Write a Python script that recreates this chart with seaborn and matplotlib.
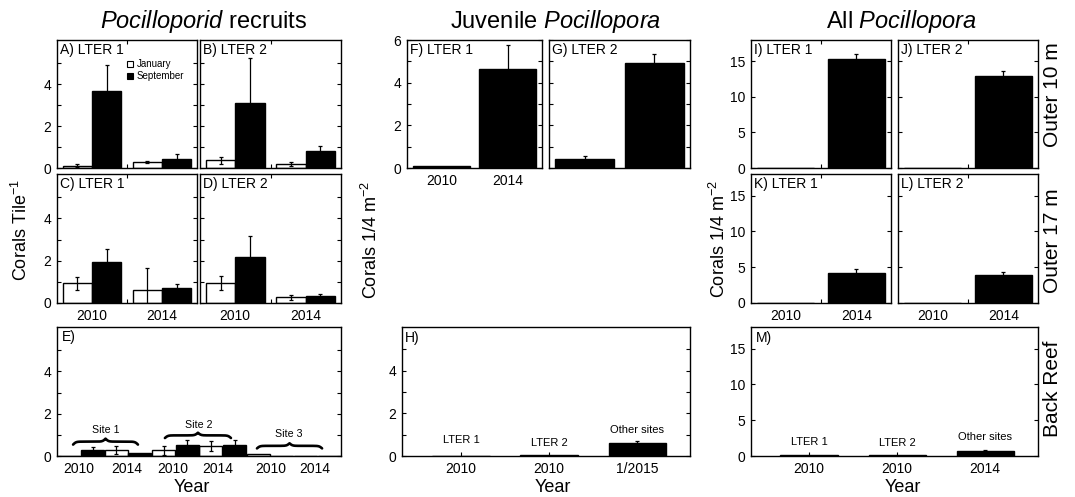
import numpy as np
import pandas as pd
import matplotlib.pyplot as plt
import seaborn as sns

sns.set_style("ticks")
plt.rcParams["font.family"] = ["Liberation Sans", "DejaVu Sans"]
plt.rcParams["mathtext.fontset"] = "custom"
plt.rcParams["mathtext.rm"] = "Liberation Sans"
plt.rcParams["mathtext.sf"] = "Liberation Sans"
plt.rcParams["mathtext.it"] = "Liberation Sans:italic"
plt.rcParams["axes.edgecolor"] = "black"
plt.rcParams["axes.linewidth"] = 1.0
plt.rcParams["xtick.color"] = "black"
plt.rcParams["ytick.color"] = "black"
plt.rcParams["text.color"] = "black"
plt.rcParams["axes.labelcolor"] = "black"

# ---- data ----
years = ["2010", "2014"]
months = ["January", "September"]

# Pocilloporid recruits, corals per tile (2010, 2014)
rec_10m_lter1_jan = [0.10, 0.28]
rec_10m_lter1_sep = [3.69, 0.42]
rec_10m_lter1_jan_se = [0.07, 0.05]
rec_10m_lter1_sep_se = [1.21, 0.26]
rec_10m_lter2_jan = [0.36, 0.20]
rec_10m_lter2_sep = [3.08, 0.82]
rec_10m_lter2_jan_se = [0.18, 0.10]
rec_10m_lter2_sep_se = [2.17, 0.25]
rec_17m_lter1_jan = [0.94, 0.60]
rec_17m_lter1_sep = [1.95, 0.71]
rec_17m_lter1_jan_se = [0.31, 1.06]
rec_17m_lter1_sep_se = [0.60, 0.21]
rec_17m_lter2_jan = [0.94, 0.27]
rec_17m_lter2_sep = [2.18, 0.33]
rec_17m_lter2_jan_se = [0.33, 0.13]
rec_17m_lter2_sep_se = [0.98, 0.09]

# back reef recruits, three sites x two years, bars in plotted order
br_slots = list(range(12))
br_months = ["January", "September"] * 6
br_mean = [0.0, 0.28, 0.28, 0.13, 0.27, 0.53, 0.47, 0.53, 0.09, 0.0, 0.0, 0.0]
br_se = [0.0, 0.16, 0.19, 0.0, 0.20, 0.22, 0.25, 0.22, 0.0, 0.0, 0.0, 0.0]
br_tick_labels = ["2010", "2014"] * 3
br_site_names = ["Site 1", "Site 2", "Site 3"]

# juvenile Pocillopora, corals per 1/4 m2
juv_10m_lter1 = [0.08, 4.63]
juv_10m_lter1_se = [0.0, 1.15]
juv_10m_lter2 = [0.43, 4.90]
juv_10m_lter2_se = [0.14, 0.46]

backreef_sites = ["LTER 1", "LTER 2", "Other sites"]
juv_br_years = ["2010", "2010", "1/2015"]
juv_br = [0.02, 0.04, 0.60]
juv_br_se = [0.0, 0.0, 0.10]

# all Pocillopora, corals per 1/4 m2
all_10m_lter1 = [0.0, 15.38]
all_10m_lter1_se = [0.0, 0.72]
all_10m_lter2 = [0.05, 12.90]
all_10m_lter2_se = [0.0, 0.70]
all_17m_lter1 = [0.0, 4.20]
all_17m_lter1_se = [0.0, 0.55]
all_17m_lter2 = [0.0, 3.87]
all_17m_lter2_se = [0.0, 0.43]
all_br_years = ["2010", "2010", "2014"]
all_br = [0.15, 0.12, 0.75]
all_br_se = [0.0, 0.0, 0.15]

# ---- layout ----
W, H = 1075, 497
fig = plt.figure(figsize=(W / 100, H / 100), dpi=100)


def place(x0, y0, x1, y1):
    return fig.add_axes([x0 / W, 1 - y1 / H, (x1 - x0) / W, (y1 - y0) / H])


def add_errors(ax, order, se, hue_order=None):
    # se: dict keyed by (category, hue)
    for ci, cont in enumerate(list(ax.containers)):
        hue = hue_order[ci] if hue_order else None
        for bar in cont:
            xc = bar.get_x() + bar.get_width() / 2
            err = se.get((order[int(round(xc))], hue), 0)
            if err > 0:
                ax.errorbar(xc, bar.get_height(), yerr=err, fmt="none",
                            ecolor="black", elinewidth=0.9, capsize=1.5,
                            capthick=0.9, zorder=3)


def recruit_panel(ax, jan, sep, jan_se, sep_se, legend=False):
    df = pd.DataFrame({"Year": years * 2,
                       "Month": [months[0]] * 2 + [months[1]] * 2,
                       "Mean": jan + sep})
    sns.barplot(data=df, x="Year", y="Mean", hue="Month", order=years,
                hue_order=months, palette={"January": "white", "September": "black"},
                edgecolor="black", linewidth=1, width=0.83, saturation=1,
                errorbar=None, legend=legend, ax=ax)
    se = {}
    for i, y in enumerate(years):
        se[(y, "January")] = jan_se[i]
        se[(y, "September")] = sep_se[i]
    add_errors(ax, years, se, months)
    ax.set_xlim(-0.5, 1.5)
    ax.set_xticks([0.5], minor=True)


def simple_panel(ax, cats, vals, errs, width=0.82):
    sns.barplot(x=cats, y=vals, order=cats, color="black", edgecolor="black",
                linewidth=1, width=width, saturation=1, errorbar=None, ax=ax)
    add_errors(ax, cats, {(c, None): e for c, e in zip(cats, errs)})


def style(ax, ymax, major, minor, show_y=True, show_x=True):
    ax.set(xlabel="", ylabel="")
    ax.set_ylim(0, ymax)
    ax.set_yticks(major)
    ax.set_yticks(minor, minor=True)
    ax.tick_params(axis="y", which="both", direction="in", left=True, right=True,
                   length=3, width=0.8, labelleft=show_y, labelsize=10, pad=4)
    ax.tick_params(axis="x", which="major", length=0, labelbottom=show_x,
                   labelsize=10, pad=4)
    ax.tick_params(axis="x", which="minor", direction="in", top=True,
                   bottom=True, length=3, width=0.8)
    for s in ax.spines.values():
        s.set_visible(True)
        s.set_linewidth(1.0)


def tag(ax, s, dx=3, dy=3):
    ax.annotate(s, xy=(0, 1), xycoords="axes fraction", xytext=(dx, -dy),
                textcoords="offset pixels", ha="left", va="top", fontsize=10)


def brace(ax, x0, x1, base, h):
    xs = np.linspace(x0, x1, 201)
    half = xs[:101]
    beta = 45.0 / (x1 - x0)
    yh = 1 / (1 + np.exp(-beta * (half - half[0]))) + 1 / (1 + np.exp(-beta * (half - half[-1])))
    ys = np.concatenate([yh, yh[-2::-1]])
    ax.plot(xs, base + (ys - 0.5) * h, color="black", lw=1.9,
            solid_capstyle="round", clip_on=False)


# ---- left column: recruits ----
axA = place(57, 40, 197, 168)
axB = place(200, 40, 341, 168)
axC = place(57, 174, 197, 303)
axD = place(200, 174, 341, 303)
axE = place(57, 327, 341, 456)

recruit_panel(axA, rec_10m_lter1_jan, rec_10m_lter1_sep,
              rec_10m_lter1_jan_se, rec_10m_lter1_sep_se, legend=True)
recruit_panel(axB, rec_10m_lter2_jan, rec_10m_lter2_sep,
              rec_10m_lter2_jan_se, rec_10m_lter2_sep_se)
recruit_panel(axC, rec_17m_lter1_jan, rec_17m_lter1_sep,
              rec_17m_lter1_jan_se, rec_17m_lter1_sep_se)
recruit_panel(axD, rec_17m_lter2_jan, rec_17m_lter2_sep,
              rec_17m_lter2_jan_se, rec_17m_lter2_sep_se)

sns.move_legend(axA, "upper left", bbox_to_anchor=(0.47, 0.88), frameon=False,
                title=None, fontsize=7, handlelength=0.65, handleheight=0.65,
                handletextpad=0.4, labelspacing=0.2, borderaxespad=0)
for h in axA.get_legend().legend_handles:
    h.set_edgecolor("black")
    h.set_linewidth(0.8)

for ax, show_y, show_x in [(axA, True, False), (axB, False, False),
                           (axC, True, True), (axD, False, True)]:
    style(ax, 6.1, [0, 2, 4], [1, 3, 5], show_y, show_x)
tag(axA, "A) LTER 1")
tag(axB, "B) LTER 2")
tag(axC, "C) LTER 1")
tag(axD, "D) LTER 2")

dfE = pd.DataFrame({"Slot": br_slots, "Month": br_months, "Mean": br_mean})
sns.barplot(data=dfE, x="Slot", y="Mean", hue="Month", order=br_slots,
            hue_order=months, palette={"January": "white", "September": "black"},
            dodge=False, edgecolor="black", linewidth=1, width=0.97,
            saturation=1, errorbar=None, legend=False, ax=axE)
add_errors(axE, br_slots,
           {(s, m): e for s, m, e in zip(br_slots, br_months, br_se)}, months)
style(axE, 6.1, [0, 2, 4], [1, 3, 5])
axE.set_xlim(-0.5, 11.5)
axE.set_xticks([0.4, 2.45, 4.4, 6.3, 8.55, 10.4], br_tick_labels)
tag(axE, "E)", dx=5)
for name, (x0, x1, base, h), (tx, ty) in zip(
        br_site_names,
        [(0.18, 2.92, 0.54, 0.28), (4.06, 6.85, 0.85, 0.25), (7.95, 10.7, 0.36, 0.24)],
        [(1.57, 1.24), (5.5, 1.47), (9.3, 1.05)]):
    brace(axE, x0, x1, base, h)
    axE.text(tx, ty, name, ha="center", va="center", fontsize=7.7)

# ---- middle column: juveniles ----
axF = place(407, 40, 542, 168)
axG = place(549, 40, 690, 168)
axH = place(402, 327, 690, 456)

simple_panel(axF, years, juv_10m_lter1, juv_10m_lter1_se, width=0.85)
simple_panel(axG, years, juv_10m_lter2, juv_10m_lter2_se, width=0.85)
style(axF, 6, [0, 2, 4, 6], [1, 3, 5], True, True)
style(axG, 6, [0, 2, 4, 6], [1, 3, 5], False, False)
tag(axF, "F) LTER 1")
tag(axG, "G) LTER 2")

simple_panel(axH, backreef_sites, juv_br, juv_br_se, width=0.65)
style(axH, 6.05, [0, 2, 4], [1, 3, 5])
axH.set_xlim(-0.67, 2.6)
axH.set_xticks(range(3), juv_br_years)
axH.tick_params(axis="x", which="major", length=3, direction="in", width=0.8)
tag(axH, "H)", dy=4)
for i, (name, ty) in enumerate(zip(backreef_sites, [0.75, 0.6, 1.2])):
    axH.text(i, ty, name, ha="center", va="center", fontsize=8)

# ---- right column: all Pocillopora ----
axI = place(751, 40, 891, 168)
axJ = place(898, 40, 1038, 168)
axK = place(751, 174, 891, 303)
axL = place(898, 174, 1038, 303)
axM = place(751, 327, 1038, 456)

simple_panel(axI, years, all_10m_lter1, all_10m_lter1_se, width=0.8)
simple_panel(axJ, years, all_10m_lter2, all_10m_lter2_se, width=0.8)
simple_panel(axK, years, all_17m_lter1, all_17m_lter1_se, width=0.8)
simple_panel(axL, years, all_17m_lter2, all_17m_lter2_se, width=0.8)
for ax, show_y, show_x in [(axI, True, False), (axJ, False, False),
                           (axK, True, True), (axL, False, True)]:
    style(ax, 18, [0, 5, 10, 15], [], show_y, show_x)
    ax.set_xticks([0.5], minor=True)
tag(axI, "I) LTER 1")
tag(axJ, "J) LTER 2")
tag(axK, "K) LTER 1")
tag(axL, "L) LTER 2")

simple_panel(axM, backreef_sites, all_br, all_br_se, width=0.65)
style(axM, 18, [0, 5, 10, 15], [])
axM.set_xlim(-0.66, 2.6)
axM.set_xticks(range(3), all_br_years)
axM.tick_params(axis="x", which="major", length=3, direction="in", width=0.8)
tag(axM, "M)", dx=5, dy=4)
for i, (name, ty) in enumerate(zip(backreef_sites, [1.96, 1.8, 2.7])):
    axM.text(i, ty, name, ha="center", va="center", fontsize=8)

# ---- titles and shared labels ----
for x, s in [(204, r"$\mathit{Pocilloporid}$ recruits"),
             (556, r"Juvenile $\mathit{Pocillopora}$"),
             (901, r"All $\mathit{Pocillopora}$")]:
    fig.text(x / W, 1 - 28 / H, s, ha="center", va="baseline", fontsize=17)

fig.text(21 / W, 1 - 230 / H, r"Corals Tile$^{\mathsf{-1}}$", rotation=90,
         ha="center", va="center", fontsize=13)
fig.text(371 / W, 1 - 240 / H, r"Corals 1/4 m$^{\mathsf{-2}}$", rotation=90,
         ha="center", va="center", fontsize=13)
fig.text(719 / W, 1 - 239 / H, r"Corals 1/4 m$^{\mathsf{-2}}$", rotation=90,
         ha="center", va="center", fontsize=13)

for y, s in [(95, "Outer 10 m"), (241, "Outer 17 m"), (389, "Back Reef")]:
    fig.text(1052 / W, 1 - y / H, s, rotation=90, ha="center", va="center",
             fontsize=15)

for x in [192, 553, 903]:
    fig.text(x / W, 1 - 487 / H, "Year", ha="center", va="center", fontsize=13)

fig.savefig("out.png", dpi=100)
